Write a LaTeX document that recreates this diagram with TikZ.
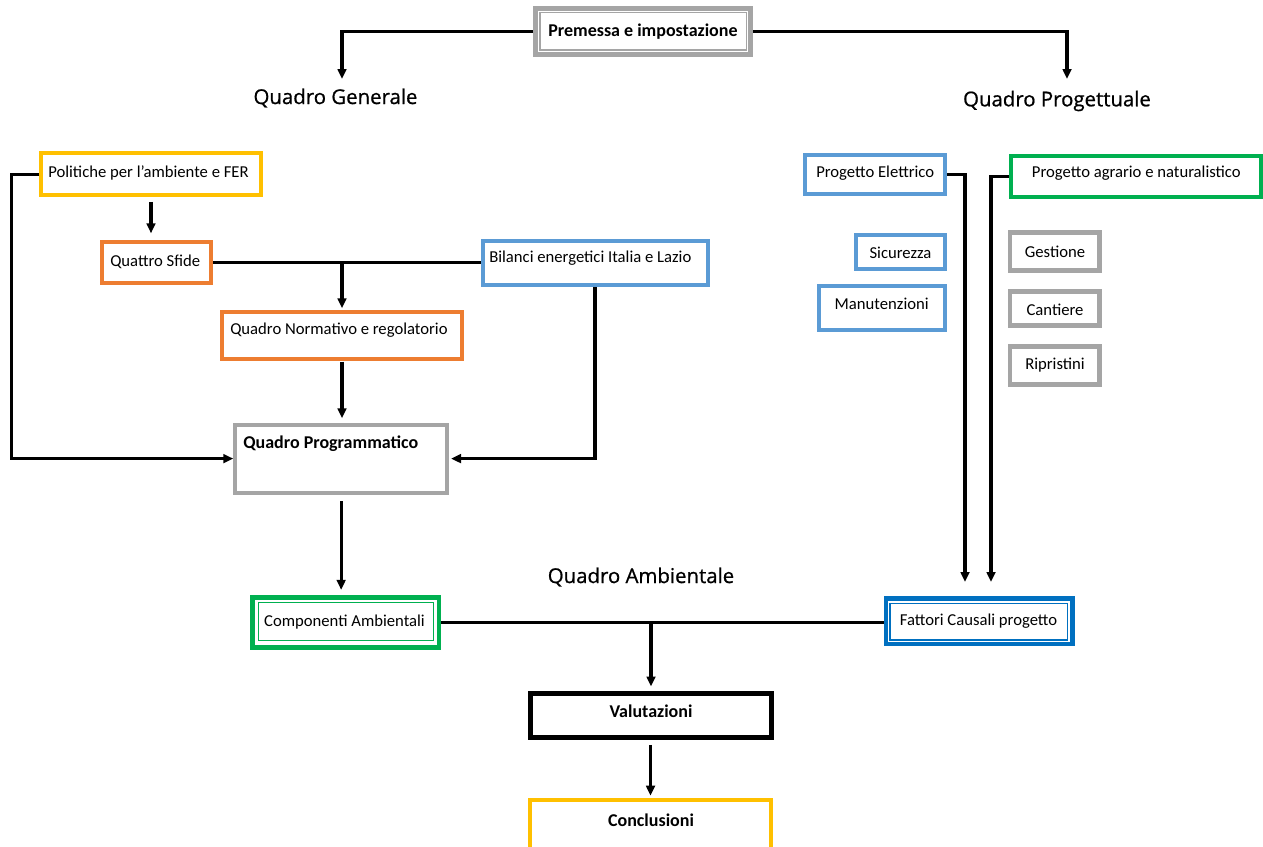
\documentclass[tikz,border=0pt]{standalone}
\usepackage{fontspec}
\setmainfont{Carlito}
\newfontfamily\headfont{Open Sans}[FakeBold=0.8]
\usetikzlibrary{fit,arrows.meta}
\definecolor{cyel}{HTML}{FFC000}
\definecolor{corange}{HTML}{ED7D31}
\definecolor{cblue}{HTML}{5B9BD5}
\definecolor{cgreen}{HTML}{00B050}
\definecolor{cgray}{HTML}{A5A5A5}
\definecolor{cdblue}{HTML}{0070C0}
\begin{document}
\begin{tikzpicture}[x=0.75pt,y=-0.75pt,
  bx/.style={draw=#1, line width=3pt, inner sep=0pt, rectangle},
  txt/.style={inner sep=0pt, font=\fontsize{12.5}{14}\selectfont},
  btxt/.style={inner sep=0pt, font=\fontsize{13.5}{15}\selectfont\bfseries},
  head/.style={inner sep=0pt, font=\headfont\fontsize{15.3}{18}\selectfont},
  ln/.style={line width=2.4pt},
  conn/.style={line width=2.4pt, -{Triangle[length=7.5pt,width=6.5pt]}}
]
\useasboundingbox (0,0) rectangle (1263,846);
\fill[white] (0,0) rectangle (1263,846);

% top
\node[bx=cgray, line width=3.75pt, fit={(535.5,8.5)(750.5,54.5)}] (pre) {};
\draw[cgray, line width=0.9pt] (540,12.5) rectangle (746.5,50);
\node[btxt] (pret) at (643,32) {Premessa e impostazione};

\node[head] (qg) at (335.5,98) {Quadro Generale};
\node[head] (qpr) at (1057,101) {Quadro Progettuale};
\node[head] (qa) at (641,577) {Quadro Ambientale};
\coordinate (tg) at (342,79);
\coordinate (tpr) at (1067,79);
\draw[conn] (pre.west) -| (tg);
\draw[conn] (pre.east) -| (tpr);

% left group
\node[bx=cyel, fit={(41,153.3)(261,195.3)}] (pol) {};
\node[txt, anchor=west] (polt) at (48,172.5) {Politiche per l’ambiente e FER};
\node[bx=corange, fit={(102,242)(211.3,283)}] (qs) {};
\node[txt, anchor=west] (qst) at (110,261.5) {Quattro Sfide};
\node[bx=cblue, fit={(482.5,240.5)(707.5,285)}] (bil) {};
\node[txt, anchor=west] (bilt) at (489,258.5) {Bilanci energetici Italia e Lazio};
\node[bx=corange, fit={(222.3,312.3)(461.7,359)}] (qn) {};
\node[txt, anchor=west] (qnt) at (230,330.5) {Quadro Normativo e regolatorio};
\node[bx=cgray, fit={(235.3,424.7)(447,492.5)}] (qp) {};
\node[btxt, anchor=west] (qpt) at (243,444) {Quadro Programmatico};

\draw[conn, shorten <=3.5pt, shorten >=5pt] (pol.south) -- (pol.south |- qs.north);
\draw[ln] (qs.east) -- (qs.east -| bil.west);
\coordinate (j1) at (342,262.5);
\draw[conn, shorten >=1.5pt] (j1) -- (j1 |- qn.north);
\draw[conn, shorten <=0.5pt, shorten >=3.3pt] (qn.south) -- (qn.south |- qp.north);
\draw[conn] (pol.west) -- ++(-27.5,0) |- (qp.west);
\draw[conn, shorten >=1.5pt] (bil.south) |- (qp.east);

% ambientale
\node[bx=cgreen, line width=3.4pt, fit={(252.5,597.5)(439,647.5)}] (comp) {};
\draw[cgreen, line width=1.1pt] (258.3,602.7) rectangle (433.3,640.7);
\node[txt] (compt) at (344.5,622) {Componenti Ambientali};
\node[bx=cdblue, line width=3.4pt, fit={(886,598.5)(1072.5,644)}] (fat) {};
\draw[cdblue, line width=1.1pt] (890,603.3) rectangle (1067.7,640);
\node[txt] (fatt) at (978.5,621.5) {Fattori Causali progetto};

\draw[conn, shorten <=5pt, shorten >=4pt] (qp.south) -- (qp.south |- comp.north);
\draw[ln] (comp.east) -- (comp.east -| fat.west);
\coordinate (j2) at (651,622.5);

\node[bx=black, line width=3.75pt, fit={(530,693)(771,737)}] (val) {};
\node[btxt] (valt) at (651,711.5) {Valutazioni};
\node[bx=cyel, line width=3.4pt, fit={(530,800)(771,858)}] (concl) {};
\node[btxt] (conclt) at (651,820.5) {Conclusioni};

\draw[conn, shorten >=3pt] (j2) -- (j2 |- val.north);
\draw[conn, shorten <=4pt, shorten >=1.5pt] (val.south) -- (val.south |- concl.north);

% right group
\node[bx=cblue, fit={(805.3,155.3)(945.3,193.7)}] (pe) {};
\node[txt, anchor=west] (pet) at (816,172.8) {Progetto Elettrico};
\node[bx=cgreen, fit={(1010.5,156)(1260.5,197)}] (pa) {};
\node[txt, anchor=west] (pat) at (1031.7,172.8) {Progetto agrario e naturalistico};
\node[bx=cblue, fit={(856.3,235.3)(944.7,268.7)}] (sic) {};
\node[txt] (sict) at (900.5,252.5) {Sicurezza};
\node[bx=cblue, fit={(818.7,286)(944.7,329.7)}] (man) {};
\node[txt] (mant) at (881.7,303.8) {Manutenzioni};
\node[bx=cgray, line width=3.5pt, fit={(1010,232.5)(1099.8,270.8)}] (ges) {};
\node[txt] (gest) at (1055,251.5) {Gestione};
\node[bx=cgray, line width=3.5pt, fit={(1010,291.5)(1099.8,325.8)}] (can) {};
\node[txt] (cant) at (1055,309.5) {Cantiere};
\node[bx=cgray, line width=3.5pt, fit={(1010,346.5)(1099.8,384.8)}] (rip) {};
\node[txt] (ript) at (1055,365) {Ripristini};

\coordinate (t1) at (965,582);
\coordinate (t2) at (991,582);
\draw[conn] (pe.east) -| (t1);
\draw[conn] (pa.west) -| (t2);
\end{tikzpicture}
\end{document}
